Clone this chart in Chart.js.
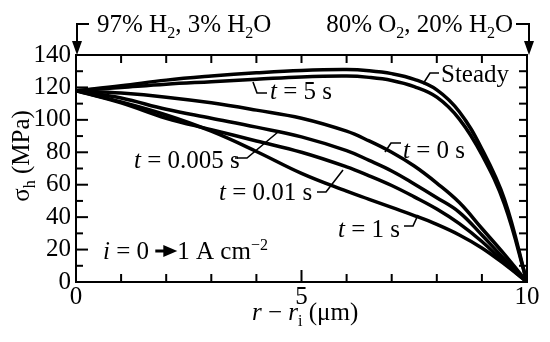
<!DOCTYPE html>
<html>
<head>
<meta charset="utf-8">
<script src="https://cdn.jsdelivr.net/npm/chart.js@4/dist/chart.umd.min.js"></script>
<style>
  html, body { margin: 0; padding: 0; background: #fff; }
  #wrap { width: 550px; height: 342px; }
</style>
</head>
<body>
<div id="wrap"><canvas id="myChart" width="550" height="342"></canvas></div>
<script>
// radial position r - r_i (um)
const xs     = [0, 1, 2, 3, 4, 5, 6, 6.5, 7, 7.5, 8, 8.5, 9, 9.5, 10];
// hoop stress (MPa) for each curve
const steady = [118, 121, 124.5, 127, 129, 130.5, 131, 130.3, 128.5, 125, 118.5, 105, 82, 51, 0];
const t5     = [118, 120, 122, 123.5, 125, 126.5, 127, 126.2, 124.3, 120.5, 114, 100.5, 78.5, 48, 0];
const t0     = [118, 116.5, 114, 110.5, 106, 101, 93, 87, 80, 71.5, 61, 49, 33, 17, 0];
const t0005  = [118, 113.5, 106.5, 101, 95.5, 89.5, 81, 75, 68.5, 60.5, 52, 43, 29, 14, 0];
const t001   = [118, 110.5, 101, 94, 87, 80, 71, 65.5, 59.5, 52.5, 45, 36, 25, 12, 0];
const t1     = [118, 111, 103, 93, 80.5, 67, 56, 51, 46, 41, 35.5, 29, 21, 11, 0];
const yTicks = [0, 20, 40, 60, 80, 100, 120, 140];
const xTicks = [0, 5, 10];

const FONT = '"Liberation Serif", "Times New Roman", serif';

function pts(ys) { return xs.map((x, i) => ({ x: x, y: ys[i] })); }
function ds(label, ys) {
  return { label: label, data: pts(ys), borderColor: '#000', borderWidth: 3.5,
           pointRadius: 0, fill: false, tension: 0.4 };
}

// draws a run of text pieces: {t, it, sub, sup}
function rich(ctx, x, y, parts, size) {
  let cx = x;
  parts.forEach(p => {
    const s = (p.sub || p.sup) ? Math.round(size * 0.62) : size;
    ctx.font = (p.it ? 'italic ' : '') + s + 'px ' + FONT;
    let dy = 0;
    if (p.sub) dy = size * 0.22;
    if (p.sup) dy = -size * 0.38;
    ctx.fillText(p.t, cx, y + dy);
    cx += ctx.measureText(p.t).width;
  });
  return cx;
}
function richWidth(ctx, parts, size) {
  let w = 0;
  parts.forEach(p => {
    const s = (p.sub || p.sup) ? Math.round(size * 0.62) : size;
    ctx.font = (p.it ? 'italic ' : '') + s + 'px ' + FONT;
    w += ctx.measureText(p.t).width;
  });
  return w;
}
function poly(ctx, p, w) {
  ctx.beginPath();
  ctx.lineWidth = w;
  ctx.moveTo(p[0][0], p[0][1]);
  for (let i = 1; i < p.length; i++) ctx.lineTo(p[i][0], p[i][1]);
  ctx.stroke();
}
function tri(ctx, a, b, c) {
  ctx.beginPath();
  ctx.moveTo(a[0], a[1]); ctx.lineTo(b[0], b[1]); ctx.lineTo(c[0], c[1]);
  ctx.closePath(); ctx.fill();
}

const frame = {
  id: 'frame',
  afterDraw(chart) {
    const ctx = chart.ctx, a = chart.chartArea;
    const sx = chart.scales.x, sy = chart.scales.y;
    ctx.save();
    ctx.strokeStyle = '#000'; ctx.fillStyle = '#000';
    ctx.lineWidth = 2;
    ctx.strokeRect(a.left, a.top, a.right - a.left, a.bottom - a.top);
    // inward ticks
    for (let v = 10; v < 140; v += 10) {
      const py = sy.getPixelForValue(v);
      const L = v % 20 === 0 ? 12 : 7;
      poly(ctx, [[a.left, py], [a.left + L, py]], 2);
      poly(ctx, [[a.right, py], [a.right - 8, py]], 2);
    }
    for (let v = 1; v < 10; v++) {
      const px = sx.getPixelForValue(v);
      poly(ctx, [[px, a.bottom], [px, a.bottom - (v === 5 ? 12 : 8)]], 2);
      poly(ctx, [[px, a.top], [px, a.top + 8]], 2);
    }

    ctx.textBaseline = 'alphabetic';
    ctx.textAlign = 'left';
    const S = 25;
    // gas compositions with arrows
    rich(ctx, 97, 32, [{t: '97% H'}, {t: '2', sub: 1}, {t: ', 3% H'}, {t: '2', sub: 1}, {t: 'O'}], S);
    poly(ctx, [[89, 24], [77, 24], [77, 44]], 2);
    tri(ctx, [72, 41], [82, 41], [77, 55]);
    const rp = [{t: '80% O'}, {t: '2', sub: 1}, {t: ', 20% H'}, {t: '2', sub: 1}, {t: 'O'}];
    rich(ctx, 513 - richWidth(ctx, rp, S), 32, rp, S);
    poly(ctx, [[516, 24], [529, 24], [529, 44]], 2);
    tri(ctx, [524, 41], [534, 41], [529, 55]);

    // curve labels and leaders
    rich(ctx, 441, 82, [{t: 'Steady'}], S);
    poly(ctx, [[423, 84], [430, 73], [439, 73]], 1.6);
    rich(ctx, 270, 99, [{t: 't', it: 1}, {t: ' = 5 s'}], S);
    poly(ctx, [[253, 82], [257, 93], [267, 93]], 1.6);
    rich(ctx, 403, 158, [{t: 't', it: 1}, {t: ' = 0 s'}], S);
    poly(ctx, [[385, 152], [391, 143], [401, 143]], 1.6);
    rich(ctx, 134, 168, [{t: 't', it: 1}, {t: ' = 0.005 s'}], S);
    poly(ctx, [[235, 158], [247, 158], [278, 132]], 1.6);
    rich(ctx, 219, 200, [{t: 't', it: 1}, {t: ' = 0.01 s'}], S);
    poly(ctx, [[317, 192], [326, 192], [343, 170]], 1.6);
    rich(ctx, 338, 237, [{t: 't', it: 1}, {t: ' = 1 s'}], S);
    poly(ctx, [[404, 226], [413, 226], [418, 215]], 1.6);

    // current step
    let cx = rich(ctx, 103, 259, [{t: 'i', it: 1}, {t: ' = 0 '}], S);
    poly(ctx, [[cx, 251], [cx + 12, 251]], 3);
    tri(ctx, [cx + 8, 245], [cx + 8, 257], [cx + 22, 251]);
    rich(ctx, cx + 22, 259, [{t: '1 A cm'}, {t: '\u22122', sup: 1}], S);

    // x title
    rich(ctx, 252, 320, [{t: 'r', it: 1}, {t: ' \u2212 '}, {t: 'r', it: 1}, {t: 'i', sub: 1}, {t: ' (\u03bcm)'}], S);

    // y title
    ctx.translate(29, 156);
    ctx.rotate(-Math.PI / 2);
    const yp = [{t: '\u03c3'}, {t: 'h', sub: 1}, {t: ' (MPa)'}];
    rich(ctx, -richWidth(ctx, yp, S) / 2, 0, yp, S);
    ctx.restore();
  }
};

new Chart(document.getElementById('myChart'), {
  type: 'line',
  data: {
    datasets: [
      ds('Steady', steady), ds('t = 5 s', t5), ds('t = 0 s', t0),
      ds('t = 0.005 s', t0005), ds('t = 0.01 s', t001), ds('t = 1 s', t1)
    ]
  },
  options: {
    responsive: false,
    animation: false,
    layout: { padding: { left: 0, right: 23, top: 55, bottom: 0 } },
    plugins: { legend: { display: false }, tooltip: { enabled: false } },
    scales: {
      x: {
        type: 'linear', min: 0, max: 10,
        afterBuildTicks(s) { s.ticks = xTicks.map(v => ({ value: v })); },
        ticks: { color: '#000', font: { family: FONT, size: 25 }, padding: 0,
                 maxRotation: 0, autoSkip: false },
        grid: { display: false, drawTicks: false },
        border: { display: true, color: '#000', width: 2 },
        afterFit(s) { s.height = 60; }
      },
      y: {
        min: 0, max: 140,
        afterBuildTicks(s) { s.ticks = yTicks.map(v => ({ value: v })); },
        ticks: { color: '#000', font: { family: FONT, size: 25 }, padding: 5, autoSkip: false },
        grid: { display: false, drawTicks: false },
        border: { display: true, color: '#000', width: 2 },
        afterFit(s) { s.width = 76; }
      }
    }
  },
  plugins: [frame]
});
</script>
</body>
</html>
